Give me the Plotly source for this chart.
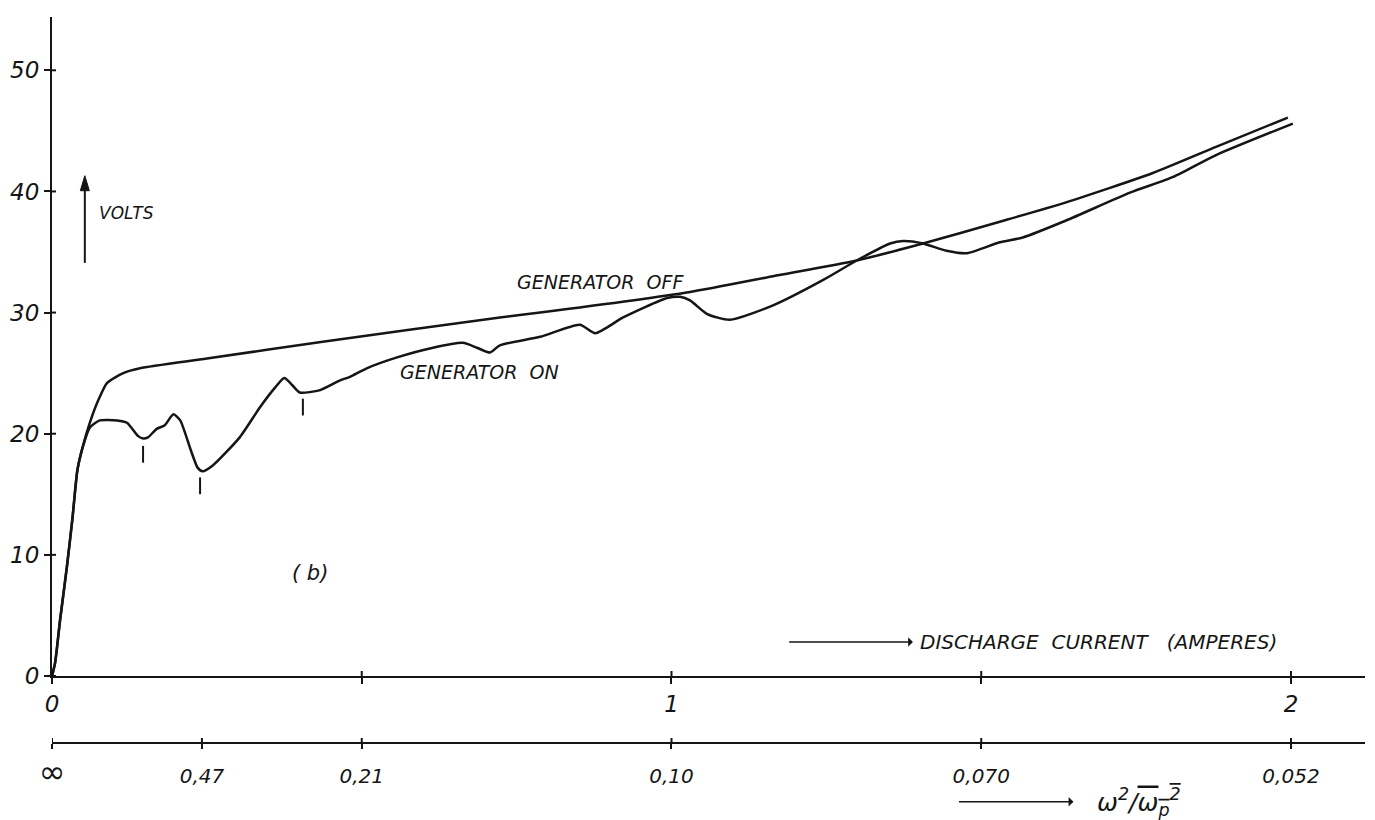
import plotly.graph_objects as go

# ---- data ----
current_off = [0, 0.005, 0.013, 0.024, 0.033, 0.041, 0.050, 0.061, 0.075, 0.089, 0.115, 0.142,
               0.25, 0.437, 0.723, 0.788, 1.030, 1.164, 1.299, 1.406, 1.530, 1.637,
               1.776, 1.88, 1.995]
volts_off = [0, 1.1, 4.6, 9.0, 13.0, 17.0, 19.0, 20.9, 22.8, 24.2, 25.0, 25.4,
             26.2, 27.6, 29.6, 30.0, 31.7, 33.0, 34.3, 35.7, 37.5, 39.1,
             41.5, 43.7, 46.1]

current_on = [0, 0.005, 0.013, 0.024, 0.033, 0.041, 0.048, 0.061, 0.077, 0.105, 0.121, 0.139,
              0.147, 0.155, 0.169, 0.182, 0.196, 0.207, 0.223, 0.235, 0.243, 0.260, 0.303,
              0.336, 0.360, 0.375, 0.388, 0.400, 0.433, 0.465, 0.481, 0.508, 0.557, 0.615,
              0.663, 0.686, 0.707, 0.723, 0.788, 0.852, 0.877, 0.922, 0.993, 1.014, 1.030,
              1.057, 1.094, 1.164, 1.245, 1.299, 1.353, 1.374, 1.406, 1.444, 1.477, 1.530,
              1.567, 1.637, 1.740, 1.81, 1.879, 2.003]
volts_on = [0, 1.1, 4.6, 9.0, 13.0, 17.0, 18.6, 20.5, 21.1, 21.1, 20.9, 19.8,
            19.6, 19.7, 20.4, 20.7, 21.6, 21.1, 18.8, 17.2, 16.9, 17.4, 19.7,
            22.2, 23.8, 24.6, 24.0, 23.4, 23.6, 24.4, 24.7, 25.4, 26.3, 27.1,
            27.5, 27.1, 26.7, 27.3, 28.0, 29.0, 28.3, 29.6, 31.2, 31.3, 31.0,
            29.9, 29.4, 30.6, 32.7, 34.3, 35.7, 35.9, 35.7, 35.1, 34.9, 35.8,
            36.2, 37.6, 39.9, 41.2, 43.0, 45.6]

mark_current = [0.147, 0.239, 0.405]
mark_volts = [18.3, 15.7, 22.2]

volt_ticks = [0, 10, 20, 30, 40, 50]
current_ticks = [0, 1, 2]
current_minor_ticks = [0.5, 1.5]
ratio_ticks = [0, 0.242, 0.5, 1, 1.5, 2]
ratio_labels = ["<span style='font-size:32px'>\u221e</span>", "0,47", "0,21", "0,10",
                "0,070", "0,052"]

# ---- styling ----
FONT = "DejaVu Sans"
INK = "#151515"
W, H = 1375, 820
M = dict(l=52, r=10, t=17, b=77)
X_RANGE = [0, 2.1195]
Y_RANGE = [0, 54.4]
Y_DOMAIN = [0.0923, 1]

plot_w = W - M["l"] - M["r"]
plot_h = H - M["t"] - M["b"]
px_per_x = plot_w / (X_RANGE[1] - X_RANGE[0])
px_per_y = plot_h * (Y_DOMAIN[1] - Y_DOMAIN[0]) / (Y_RANGE[1] - Y_RANGE[0])

fig = go.Figure()
curve_line = dict(color=INK, width=2.5, shape="spline", smoothing=0.6)
fig.add_trace(go.Scatter(x=current_off, y=volts_off, mode="lines", line=curve_line,
                         name="GENERATOR OFF", hoverinfo="skip", showlegend=False))
fig.add_trace(go.Scatter(x=current_on, y=volts_on, mode="lines", line=curve_line,
                         name="GENERATOR ON", hoverinfo="skip", showlegend=False))
fig.add_trace(go.Scatter(x=mark_current, y=mark_volts, mode="markers",
                         marker=dict(symbol="line-ns", size=12, line=dict(width=2, color=INK)),
                         hoverinfo="skip", showlegend=False))
# dummy trace so that the second (ratio) axis is drawn
fig.add_trace(go.Scatter(x=[None], y=[None], xaxis="x2", yaxis="y", mode="lines",
                         hoverinfo="skip", showlegend=False))

tick_font_big = dict(family=FONT, size=23, color=INK, style="italic")
tick_font_small = dict(family=FONT, size=20, color=INK, style="italic")
common_x = dict(range=X_RANGE, showgrid=False, zeroline=False, fixedrange=True)

fig.update_layout(
    width=W, height=H, margin=M,
    paper_bgcolor="white", plot_bgcolor="white",
    xaxis=dict(**common_x, anchor="y", showline=True, linecolor=INK, linewidth=2,
               tickmode="array", tickvals=current_ticks,
               ticks="outside", ticklen=6, tickwidth=2, tickcolor=INK,
               minor=dict(dtick=0.5, tick0=0, ticks="outside", ticklen=6, tickwidth=2,
                          tickcolor=INK, showgrid=False),
               tickfont=tick_font_big),
    xaxis2=dict(**common_x, anchor="free", position=0, overlaying="x", side="bottom",
                showline=True, linecolor=INK, linewidth=2,
                tickmode="array", tickvals=ratio_ticks, ticktext=ratio_labels,
                ticks="outside", ticklen=5, tickwidth=2, tickcolor=INK,
                ticklabelstandoff=10, tickfont=tick_font_small),
    yaxis=dict(range=Y_RANGE, domain=Y_DOMAIN, anchor="x", showgrid=False, zeroline=False,
               showline=True, linecolor=INK, linewidth=2, fixedrange=True,
               tickmode="array", tickvals=volt_ticks, ticks="outside", ticklen=6,
               tickwidth=2, tickcolor=INK, tickfont=tick_font_big),
)

# inner halves of the crossing ticks (drawn at the tick values)
tick_line = dict(color=INK, width=2)
for v in current_ticks + current_minor_ticks:
    fig.add_shape(type="line", xref="x", yref="paper", x0=v, x1=v,
                  y0=Y_DOMAIN[0], y1=Y_DOMAIN[0] + 5 / plot_h, line=tick_line)
for v in ratio_ticks:
    fig.add_shape(type="line", xref="x", yref="paper", x0=v, x1=v,
                  y0=0, y1=5 / plot_h, line=tick_line)
for v in volt_ticks:
    fig.add_shape(type="line", xref="paper", yref="y", x0=0, x1=4 / plot_w,
                  y0=v, y1=v, line=tick_line)

# VOLTS arrow (shaft + head as shapes)
va_x, va_y0, va_y1 = 0.053, 34.1, 41.3
head_len = 15 / px_per_y
head_half = 4.5 / px_per_x
fig.add_shape(type="line", x0=va_x, y0=va_y0, x1=va_x, y1=va_y1 - head_len * 0.5,
              xref="x", yref="y", line=dict(color=INK, width=2))
fig.add_shape(type="path", xref="x", yref="y", fillcolor=INK, line=dict(color=INK, width=1),
              path=f"M {va_x - head_half},{va_y1 - head_len} L {va_x},{va_y1} "
                   f"L {va_x + head_half},{va_y1 - head_len} Z")

label_font = dict(family=FONT, size=19, color=INK, style="italic")
annotations = [
    dict(text="GENERATOR  OFF", x=0.886, y=32.5, xref="x", yref="y", showarrow=False,
         font=label_font),
    dict(text="GENERATOR  ON", x=0.690, y=25.1, xref="x", yref="y", showarrow=False,
         font=label_font),
    dict(text="( b)", x=0.416, y=8.5, xref="x", yref="y", showarrow=False,
         font=dict(family=FONT, size=21, color=INK, style="italic")),
    dict(text="VOLTS", x=0.073, y=38.2, xref="x", yref="y", xanchor="left", showarrow=False,
         font=dict(family=FONT, size=17, color=INK, style="italic")),
    # label with arrow pointing at it from the left
    dict(text="DISCHARGE  CURRENT   (AMPERES)", x=1.19, y=2.8, ax=1.69, ay=2.8,
         xref="x", yref="y", axref="x", ayref="y",
         showarrow=True, arrowside="start", arrowhead=2, arrowsize=1.4, arrowwidth=1.6,
         arrowcolor=INK, startstandoff=6,
         font=dict(family=FONT, size=20, color=INK, style="italic")),
    dict(text="\u03c9<sup>2</sup>/<span style='text-decoration:overline'>\u03c9<sub>p</sub><sup>2</sup></span>",
         x=1.464, y=-0.081, xref="x", yref="paper", ax=180, ay=0, axref="pixel", ayref="pixel",
         showarrow=True, arrowside="start", arrowhead=2, arrowsize=1.4, arrowwidth=1.6,
         arrowcolor=INK, startstandoff=22,
         font=dict(family=FONT, size=25, color=INK, style="italic")),
]
fig.update_layout(annotations=annotations)

fig.write_html("out.html")
